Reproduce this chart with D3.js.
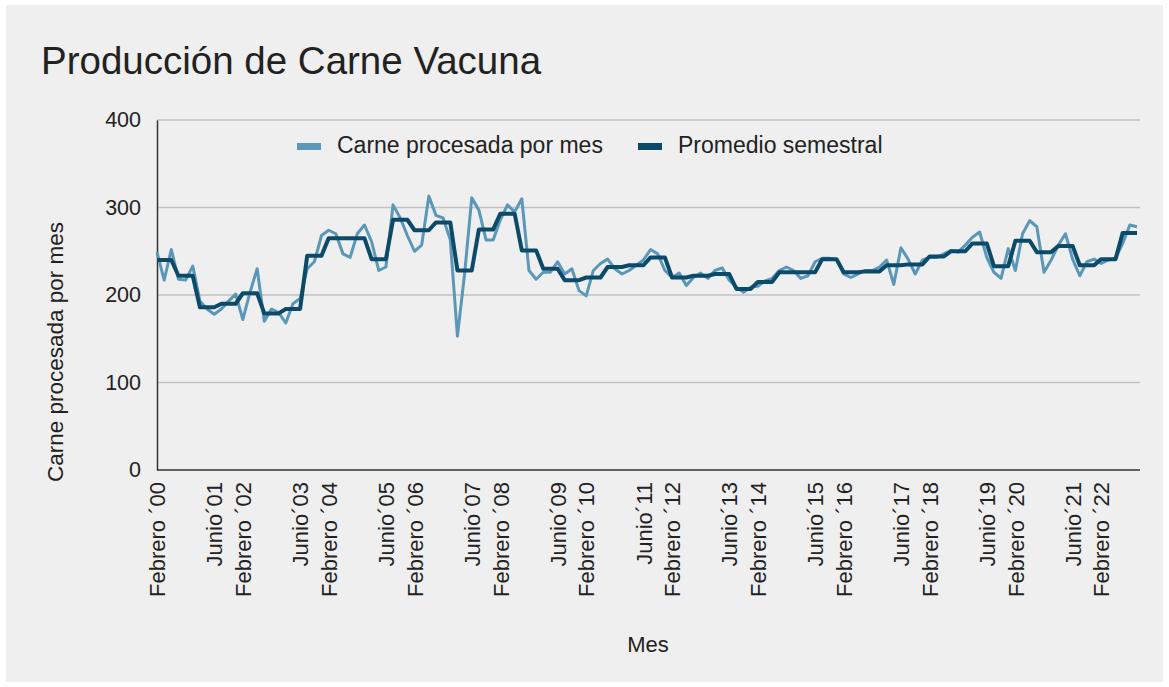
<!DOCTYPE html>
<html>
<head>
<meta charset="utf-8">
<script src="https://cdn.jsdelivr.net/npm/d3@7"></script>
<style>
  body { margin: 0; background: #fff; }
  text { font-family: "Liberation Sans", Arial, sans-serif; fill: #222; }
</style>
</head>
<body>
<div id="main"></div>
<script>
'use strict';

// meses relevados (bimestral) y años
var meses = ["Febrero", "Abril", "Junio", "Agosto", "Octubre", "Diciembre"];
var anios = ["00","01","02","03","04","05","06","07","08","09","10","11",
             "12","13","14","15","16","17","18","19","20","21","22"];

// carne procesada por mes (un valor cada dos meses)
var carneMes = [
  249, 217, 252, 218, 217, 233, 193, 184, 178, 184, 193, 201,
  172, 203, 230, 170, 184, 180, 168, 190, 196, 230, 238, 268,
  274, 270, 247, 243, 270, 280, 261, 228, 232, 303, 288, 268,
  250, 257, 313, 291, 288, 263, 153, 224, 311, 297, 263, 263,
  286, 303, 295, 310, 228, 218, 226, 226, 238, 224, 230, 205,
  199, 228, 236, 241, 230, 224, 228, 234, 240, 252, 247, 228,
  220, 225, 211, 220, 225, 219, 228, 231, 217, 209, 203, 209,
  210, 216, 219, 228, 232, 228, 219, 222, 238, 242, 242, 240,
  224, 220, 224, 228, 228, 232, 240, 212, 254, 241, 224, 240,
  243, 243, 247, 251, 249, 257, 266, 272, 243, 226, 219, 253,
  228, 270, 285, 278, 226, 240, 257, 270, 241, 222, 238, 241,
  236, 240, 242, 259, 280, 278
];

// promedio semestral (uno por semestre)
var promedioSemestral = [
  240, 222, 186, 190, 202, 179, 184, 245, 265, 265, 241, 286,
  274, 283, 228, 275, 293, 251, 230, 217, 220, 232, 234, 243,
  220, 222, 224, 207, 215, 226, 226, 241, 226, 227, 234, 235,
  244, 250, 259, 233, 262, 249, 256, 234, 241, 271
];

var ticksY = [0, 100, 200, 300, 400];

var etiquetasX = [
  "Febrero ´00", "Junio´01", "Febrero ´02", "Junio´03", "Febrero ´04",
  "Junio´05", "Febrero ´06", "Junio´07", "Febrero ´08", "Junio´09",
  "Febrero ´10", "Junio´11", "Febrero ´12", "Junio´13", "Febrero ´14",
  "Junio´15", "Febrero ´16", "Junio´17", "Febrero ´18", "Junio´19",
  "Febrero ´20", "Junio´21", "Febrero ´22"
];

var lightBlue = "#5b97b9";
var darkBlue = "#0b4a69";

// categorias del eje x
var categorias = [];
anios.forEach(function (a) {
  meses.forEach(function (m) {
    categorias.push(m + (m === "Junio" ? "´" : " ´") + a);
  });
});

var serieMes = categorias.map(function (c, i) {
  return { cat: c, v: carneMes[i] };
});
var serieSem = categorias.map(function (c, i) {
  return { cat: c, v: promedioSemestral[Math.floor(i / 3)] };
});

var width = 1169, height = 687;
var plotLeft = 157, plotRight = 1137, plotTop = 120, plotBottom = 470;
var fontFam = '"Liberation Sans", Arial, sans-serif';

var svg = d3.select('#main').append('svg')
  .attr('width', width)
  .attr('height', height);

svg.append('rect')
  .attr('x', 6).attr('y', 5)
  .attr('width', 1157).attr('height', 677)
  .style('fill', '#efefef');

var x = d3.scalePoint()
  .domain(categorias)
  .range([plotLeft, plotRight]);

var y = d3.scaleLinear()
  .domain([0, 400])
  .range([plotBottom, plotTop]);

// grid
svg.append('g').selectAll('line').data(ticksY.slice(1)).enter().append('line')
  .attr('x1', plotLeft).attr('x2', 1140)
  .attr('y1', function (d) { return y(d); })
  .attr('y2', function (d) { return y(d); })
  .style('stroke', '#c2c2c2')
  .style('stroke-width', 1.5);

// eje y
var yAxis = svg.append('g')
  .attr('transform', 'translate(' + plotLeft + ',0)')
  .call(d3.axisLeft(y).tickValues(ticksY).tickSize(0).tickPadding(16));
yAxis.select('.domain').style('stroke', '#333').style('stroke-width', 1.5);
yAxis.selectAll('text').style('font-size', '21.5px')
  .style('font-family', fontFam).style('fill', '#222');

// eje x
var xAxis = svg.append('g')
  .attr('transform', 'translate(0,' + plotBottom + ')')
  .call(d3.axisBottom(x).tickValues(etiquetasX).tickSize(0));
xAxis.select('.domain').attr('d', 'M' + plotLeft + ',0H1140')
  .style('stroke', '#333').style('stroke-width', 1.5);
xAxis.selectAll('text')
  .attr('transform', 'rotate(-90)')
  .attr('x', -12).attr('y', 0).attr('dy', '0.35em')
  .style('text-anchor', 'end')
  .style('font-size', '22px')
  .style('font-family', fontFam).style('fill', '#222');

// lineas
var line = d3.line()
  .x(function (d) { return x(d.cat); })
  .y(function (d) { return y(d.v); });

svg.append('path').datum(serieMes)
  .attr('d', line)
  .style('fill', 'none')
  .style('stroke', lightBlue)
  .style('stroke-width', 3)
  .style('stroke-linejoin', 'round');

svg.append('path').datum(serieSem)
  .attr('d', line)
  .style('fill', 'none')
  .style('stroke', darkBlue)
  .style('stroke-width', 4)
  .style('stroke-linejoin', 'round');

// titulo
svg.append('text')
  .attr('x', 41).attr('y', 74)
  .text('Producción de Carne Vacuna')
  .style('font-size', '38.5px');

// titulos de ejes
svg.append('text')
  .attr('transform', 'translate(63,352) rotate(-90)')
  .attr('text-anchor', 'middle')
  .text('Carne procesada por mes')
  .style('font-size', '22.5px');

svg.append('text')
  .attr('x', 648).attr('y', 652)
  .attr('text-anchor', 'middle')
  .text('Mes')
  .style('font-size', '22px');

// leyenda
var legend = [
  { name: 'Carne procesada por mes', color: lightBlue, x: 297 },
  { name: 'Promedio semestral', color: darkBlue, x: 638 }
];
var lg = svg.append('g').selectAll('g').data(legend).enter().append('g')
  .attr('transform', function (d) { return 'translate(' + d.x + ',0)'; });
lg.append('rect')
  .attr('x', 0).attr('y', 143)
  .attr('width', 24).attr('height', 7)
  .style('fill', function (d) { return d.color; });
lg.append('text')
  .attr('x', 40).attr('y', 153)
  .text(function (d) { return d.name; })
  .style('font-size', '23px');
</script>
</body>
</html>
